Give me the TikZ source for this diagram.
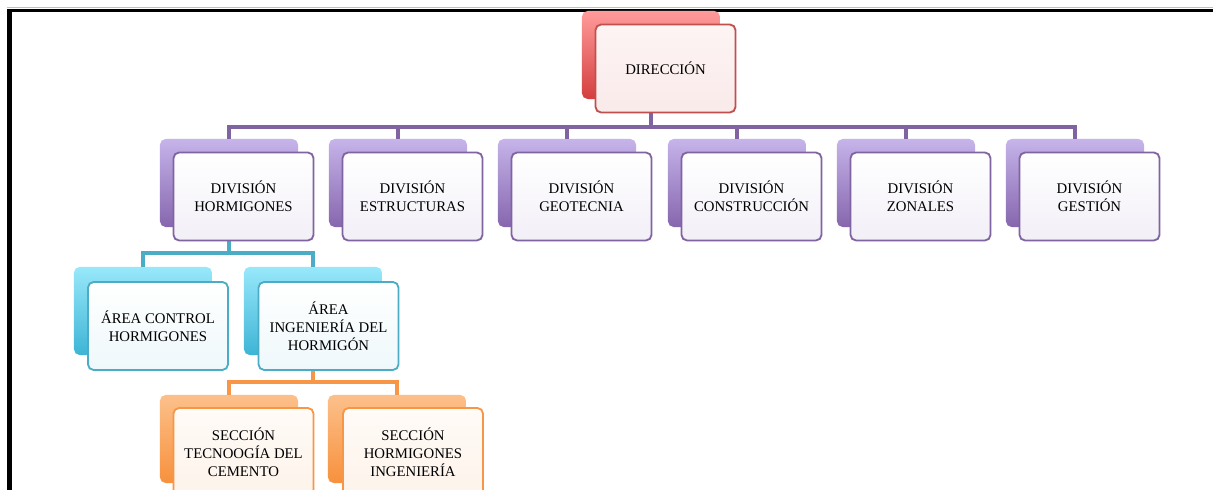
\documentclass[tikz,border=0pt]{standalone}
\usepackage{fontspec}
\setmainfont{Liberation Serif}

\definecolor{redline}{HTML}{C0504D}
\definecolor{purpleline}{HTML}{8064A2}
\definecolor{cyanline}{HTML}{4BACC6}
\definecolor{orangeline}{HTML}{F79646}

\tikzset{
  backbox/.style={rounded corners=4pt, minimum width=3.45cm, minimum height=2.2cm, inner sep=0pt},
  frontbox/.style={draw, line width=1.3pt, rounded corners=4pt, minimum width=3.5cm, minimum height=2.2cm,
    inner sep=1pt, align=center, font=\fontsize{10.5}{12.8}\selectfont},
  redback/.style={backbox, top color={rgb,255:red,255;green,155;blue,155}, bottom color={rgb,255:red,212;green,62;blue,62}},
  redfront/.style={frontbox, draw=redline, top color={rgb,255:red,253;green,244;blue,244}, bottom color={rgb,255:red,250;green,234;blue,234}},
  purpleback/.style={backbox, top color={rgb,255:red,198;green,180;blue,234}, bottom color={rgb,255:red,134;green,102;blue,174}},
  purplefront/.style={frontbox, draw=purpleline, top color=white, bottom color={rgb,255:red,242;green,239;blue,247}},
  cyanback/.style={backbox, top color={rgb,255:red,152;green,232;blue,250}, bottom color={rgb,255:red,62;green,180;blue,214}},
  cyanfront/.style={frontbox, draw=cyanline, top color=white, bottom color={rgb,255:red,238;green,248;blue,251}},
  orangeback/.style={backbox, top color={rgb,255:red,252;green,192;blue,138}, bottom color={rgb,255:red,247;green,145;blue,61}},
  orangefront/.style={frontbox, draw=orangeline, top color={rgb,255:red,255;green,251;blue,247}, bottom color={rgb,255:red,253;green,243;blue,234}},
  link/.style={line width=2.5pt}
}

\begin{document}
\begin{tikzpicture}[x=0.025cm, y=-0.025cm]
\clip (0,0) rectangle (1213,490);
\fill[white] (0,0) rectangle (1213,490);

% marco
\draw[gray!50, line width=0.7pt] (7,7.5) -- (1213,7.5);
\draw[black, line width=2.4pt] (7,10.5) -- (1213,10.5);
\draw[black, line width=3pt] (9.5,9) -- (9.5,490);

% cajas de fondo
\node[redback] (dirb) at (651,55) {};
\node[purpleback] (d1b) at (229,183) {};
\node[purpleback] (d2b) at (398,183) {};
\node[purpleback] (d3b) at (567,183) {};
\node[purpleback] (d4b) at (737,183) {};
\node[purpleback] (d5b) at (906,183) {};
\node[purpleback] (d6b) at (1075,183) {};
\node[cyanback] (a1b) at (143,311) {};
\node[cyanback] (a2b) at (313,311) {};
\node[orangeback] (s1b) at (229,439) {};
\node[orangeback] (s2b) at (397,439) {};

% conectores
\coordinate (bar1) at (651,127);
\coordinate (bar2) at (229,253);
\coordinate (bar3) at (313,382);
\draw[link, purpleline] (dirb.south) -- (bar1) -| (d1b.north);
\draw[link, purpleline] (bar1) -| (d2b.north);
\draw[link, purpleline] (bar1) -| (d3b.north);
\draw[link, purpleline] (bar1) -| (d4b.north);
\draw[link, purpleline] (bar1) -| (d5b.north);
\draw[link, purpleline] (bar1) -| (d6b.north);
\draw[link, cyanline] (d1b.south) -- (bar2) -| (a1b.north);
\draw[link, cyanline] (bar2) -| (a2b.north);
\draw[link, orangeline] (a2b.south) -- (bar3) -| (s1b.north);
\draw[link, orangeline] (bar3) -| (s2b.north);

% cajas de texto
\node[redfront] (dir) at (665.5,68.5) {DIRECCIÓN};
\node[purplefront] (d1) at (243.5,196.5) {DIVISIÓN\\HORMIGONES};
\node[purplefront] (d2) at (412.5,196.5) {DIVISIÓN\\ESTRUCTURAS};
\node[purplefront] (d3) at (581.5,196.5) {DIVISIÓN\\GEOTECNIA};
\node[purplefront] (d4) at (751.5,196.5) {DIVISIÓN\\CONSTRUCCIÓN};
\node[purplefront] (d5) at (920.5,196.5) {DIVISIÓN\\ZONALES};
\node[purplefront] (d6) at (1089.5,196.5) {DIVISIÓN\\GESTIÓN};
\node[cyanfront] (a1) at (158,326) {ÁREA CONTROL\\HORMIGONES};
\node[cyanfront] (a2) at (328.5,326) {ÁREA\\INGENIERÍA DEL\\HORMIGÓN};
\node[orangefront] (s1) at (243.5,452) {SECCIÓN\\TECNOOGÍA DEL\\CEMENTO};
\node[orangefront] (s2) at (413,452) {SECCIÓN\\HORMIGONES\\INGENIERÍA};
\end{tikzpicture}
\end{document}
